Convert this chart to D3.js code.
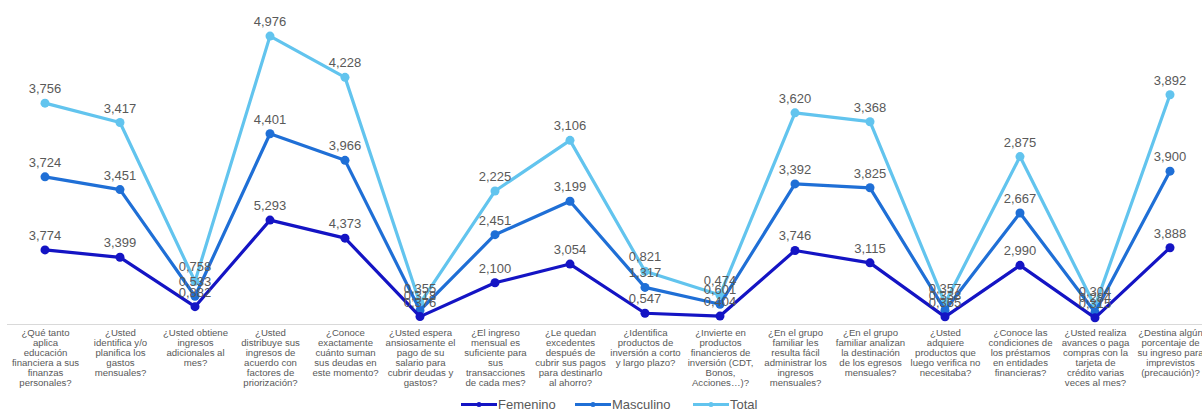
<!DOCTYPE html>
<html>
<head>
<meta charset="utf-8">
<script src="https://cdn.jsdelivr.net/npm/d3@7"></script>
<style>
html,body{margin:0;padding:0;background:#fff;}
svg{display:block;font-family:"Liberation Sans",Arial,sans-serif;}
</style>
</head>
<body>
<svg id="chart" width="1202" height="411"></svg>
<script>
const categories = [
  "¿Qué tanto\naplica\neducación\nfinanciera a sus\nfinanzas\npersonales?",
  "¿Usted\nidentifica y/o\nplanifica los\ngastos\nmensuales?",
  "¿Usted obtiene\ningresos\nadicionales al\nmes?",
  "¿Usted\ndistribuye sus\ningresos de\nacuerdo con\nfactores de\npriorización?",
  "¿Conoce\nexactamente\ncuánto suman\nsus deudas en\neste momento?",
  "¿Usted espera\nansiosamente el\npago de su\nsalario para\ncubrir deudas y\ngastos?",
  "¿El ingreso\nmensual es\nsuficiente para\nsus\ntransacciones\nde cada mes?",
  "¿Le quedan\nexcedentes\ndespués de\ncubrir sus pagos\npara destinarlo\nal ahorro?",
  "¿Identifica\nproductos de\ninversión a corto\ny largo plazo?",
  "¿Invierte en\nproductos\nfinancieros de\ninversión (CDT,\nBonos,\nAcciones…)?",
  "¿En el grupo\nfamiliar les\nresulta fácil\nadministrar los\ningresos\nmensuales?",
  "¿En el grupo\nfamiliar analizan\nla destinación\nde los egresos\nmensuales?",
  "¿Usted\nadquiere\nproductos que\nluego verifica no\nnecesitaba?",
  "¿Conoce las\ncondiciones de\nlos préstamos\nen entidades\nfinancieras?",
  "¿Usted realiza\navances o paga\ncompras con la\ntarjeta de\ncrédito varias\nveces al mes?",
  "¿Destina algún\nporcentaje de\nsu ingreso para\nimprevistos\n(precaución)?"
];
const femenino  = [3.774, 3.399, 0.882, 5.293, 4.373, 0.376, 2.100, 3.054, 0.547, 0.404, 3.746, 3.115, 0.365, 2.990, 0.315, 3.888];
const masculino = [3.724, 3.451, 0.533, 4.401, 3.966, 0.318, 2.451, 3.199, 1.317, 0.601, 3.392, 3.825, 0.338, 2.667, 0.284, 3.900];
const total     = [3.756, 3.417, 0.758, 4.976, 4.228, 0.355, 2.225, 3.106, 0.821, 0.474, 3.620, 3.368, 0.357, 2.875, 0.304, 3.892];
const seriesNames = ["Femenino", "Masculino", "Total"];
const yDomain = [0, 16];

const colors = {Femenino: "#1414c4", Masculino: "#1f6fd6", Total: "#62c4ee"};

const rows = categories.map((c, i) => ({cat: c, Femenino: femenino[i], Masculino: masculino[i], Total: total[i]}));
const stacked = d3.stack().keys(seriesNames)(rows);

const svg = d3.select("#chart");
const x = d3.scalePoint().domain(categories).range([7.5, 1207.5]).padding(0.5);
const y = d3.scaleLinear().domain(yDomain).range([324, 10]);

// baseline
svg.append("line").attr("x1", 7).attr("x2", 1202).attr("y1", y(0) + 0.5).attr("y2", y(0) + 0.5)
  .attr("stroke", "#d9d9d9").attr("stroke-width", 1);

// x axis labels
const xAxis = svg.append("g").attr("transform", `translate(0,${y(0)})`)
  .call(d3.axisBottom(x).tickSize(0).tickFormat(""));
xAxis.select(".domain").remove();
xAxis.selectAll(".tick").each(function(d) {
  const t = d3.select(this).append("text")
    .attr("text-anchor", "middle").attr("fill", "#595959")
    .style("font-size", "9.6px");
  d.split("\n").forEach((ln, k) => {
    t.append("tspan").attr("x", 0).attr("y", 12 + k * 9.9).text(ln);
  });
});

const line = d3.line().x(d => x(d.data.cat)).y(d => y(d[1]));
const drawOrder = ["Total", "Masculino", "Femenino"];
drawOrder.forEach(name => {
  const s = stacked.find(s => s.key === name);
  svg.append("path").datum(s).attr("d", line)
    .attr("fill", "none").attr("stroke", colors[name]).attr("stroke-width", 3.2)
    .attr("stroke-linejoin", "round");
  svg.append("g").selectAll("circle").data(s).join("circle")
    .attr("cx", d => x(d.data.cat)).attr("cy", d => y(d[1])).attr("r", 4.5)
    .attr("fill", colors[name]);
});

// data labels
const fmt = v => d3.format(".3f")(v).replace(".", ",");
drawOrder.forEach(name => {
  const s = stacked.find(s => s.key === name);
  svg.append("g").selectAll("text").data(s).join("text")
    .attr("x", d => x(d.data.cat)).attr("y", d => y(d[1]) - 10)
    .attr("text-anchor", "middle").attr("fill", "#595959")
    .style("font-size", "13px")
    .text(d => fmt(d.data[name]));
});

// legend
const legendX = {Femenino: 461, Masculino: 575, Total: 693};
const lg = svg.append("g");
seriesNames.forEach(name => {
  const lx = legendX[name];
  lg.append("line").attr("x1", lx).attr("x2", lx + 36).attr("y1", 404.5).attr("y2", 404.5)
    .attr("stroke", colors[name]).attr("stroke-width", 3);
  lg.append("circle").attr("cx", lx + 18).attr("cy", 404.5).attr("r", 2.5).attr("fill", colors[name]);
  lg.append("text").attr("x", lx + 37).attr("y", 409).attr("fill", "#595959")
    .style("font-size", "13px").text(name);
});
</script>
</body>
</html>
